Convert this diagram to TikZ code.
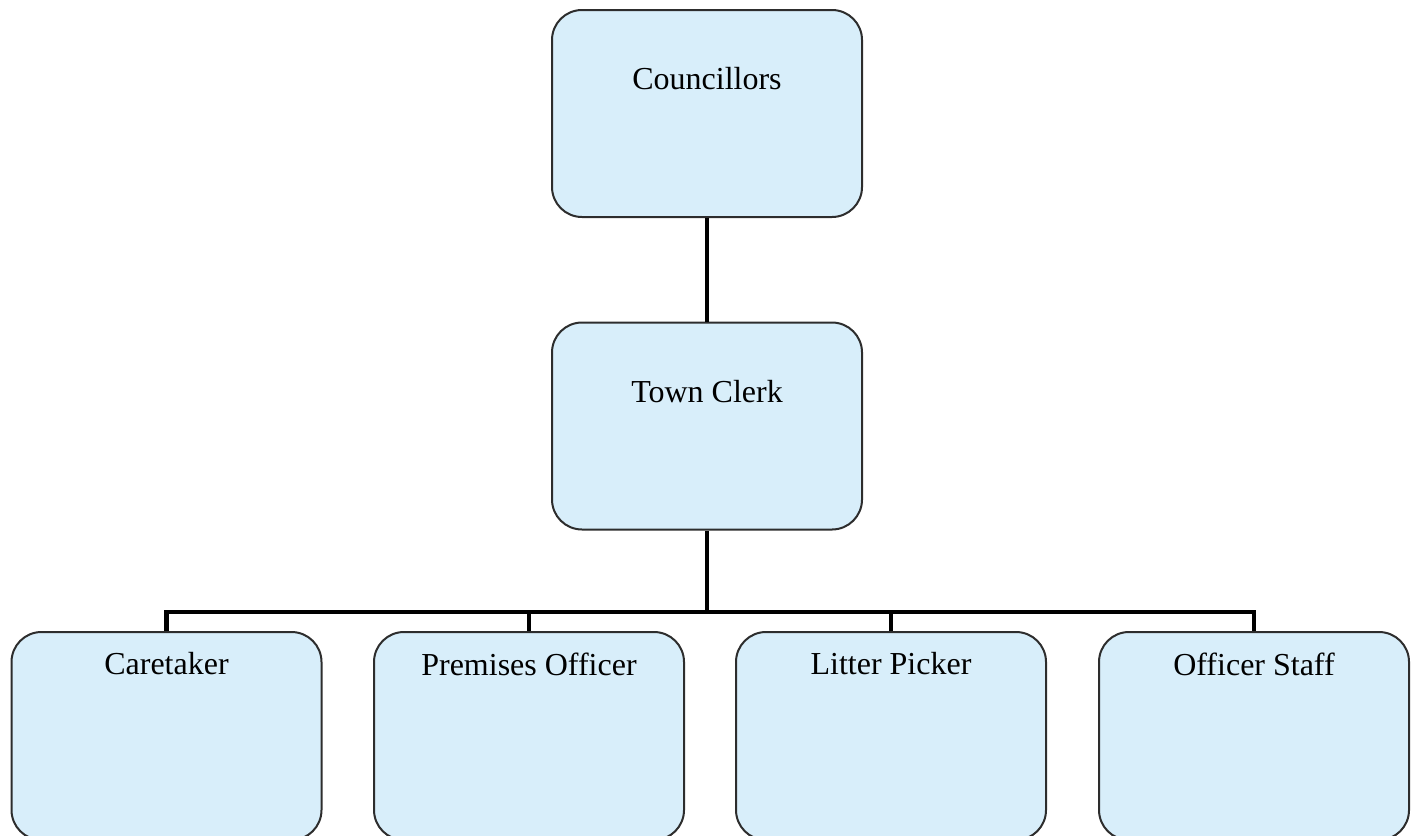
\documentclass[tikz,border=0pt]{standalone}
\usepackage{fontspec}
\setmainfont{Liberation Serif}
\definecolor{boxfill}{RGB}{216,238,250}
\definecolor{boxline}{RGB}{45,45,45}
\begin{document}
\begin{tikzpicture}[x=0.5pt,y=-0.5pt,
  orgbox/.style={draw=boxline, line width=1pt, fill=boxfill, rounded corners=15pt,
    minimum width=155pt, minimum height=103.5pt, inner sep=0pt},
  toplabel/.style={label={[anchor=center, yshift=-35pt, font=\fontsize{16}{19}\selectfont]north:#1}},
  lowlabel/.style={label={[anchor=center, yshift=-16.5pt, font=\fontsize{16}{19}\selectfont]north:#1}},
  conn/.style={line width=2.2pt, draw=black}]
\useasboundingbox (0,0) rectangle (1416,835);
\node[orgbox, toplabel=Councillors] (coun) at (707,113.5) {};
\node[orgbox, toplabel=Town Clerk] (tc) at (707,426) {};
\node[orgbox, minimum height=104pt, lowlabel=Caretaker] (ct) at (166.5,736) {};
\node[orgbox, minimum height=104pt, lowlabel=Premises Officer] (po) at (529,736) {};
\node[orgbox, minimum height=104pt, lowlabel=Litter Picker] (lp) at (891,736) {};
\node[orgbox, minimum height=104pt, lowlabel=Officer Staff] (os) at (1254,736) {};
\coordinate (bus) at (707,612);
\draw[conn] (coun.south) -- (tc.north);
\draw[conn] (tc.south) -- (bus);
\draw[conn] (ct.north) |- (bus) -| (os.north);
\draw[conn] (po.north) -- (po.north |- bus);
\draw[conn] (lp.north) -- (lp.north |- bus);
\end{tikzpicture}
\end{document}
